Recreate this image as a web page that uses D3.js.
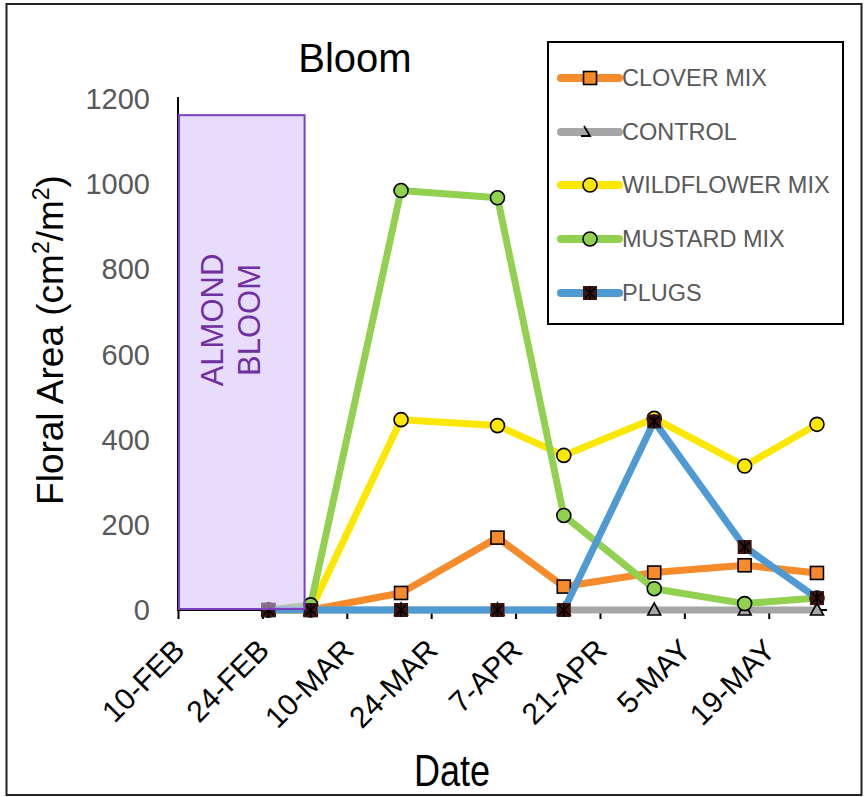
<!DOCTYPE html>
<html>
<head>
<meta charset="utf-8">
<script src="https://cdn.jsdelivr.net/npm/d3@7/dist/d3.min.js"></script>
<style>
  body { margin: 0; background: #fff; }
  svg { display: block; font-family: "Liberation Sans", Arial, sans-serif; }
</style>
</head>
<body>
<svg id="chart" width="865" height="797"></svg>
<script>
// ---------------- DATA ----------------
const sampleDates = ["2019-02-25","2019-03-04","2019-03-19","2019-04-04","2019-04-15","2019-04-30","2019-05-15","2019-05-27"];
const cloverMix     = [0, 0, 40, 170, 55, 88, 105, 87];
const control       = [0, 0, 0, 0, 0, 0, 0, 0];
const wildflowerMix = [0, 0, 447, 433, 363, 450, 338, 436];
const mustardMix    = [0, 12, 985, 968, 222, 50, 15, 28];
const plugs         = [0, 0, 0, 0, 0, 443, 148, 28];
const seriesNames   = ["CLOVER MIX", "CONTROL", "WILDFLOWER MIX", "MUSTARD MIX", "PLUGS"];
const tickDates     = ["2019-02-10","2019-02-24","2019-03-10","2019-03-24","2019-04-07","2019-04-21","2019-05-05","2019-05-19"];
const tickLabels    = ["10-FEB","24-FEB","10-MAR","24-MAR","7-APR","21-APR","5-MAY","19-MAY"];
const yTicks        = [0, 200, 400, 600, 800, 1000, 1200];
const bloomStart = "2019-02-10", bloomEnd = "2019-03-03", bloomTop = 1162;

// ---------------- SETUP ----------------
const svg = d3.select("#chart");
const parse = d3.utcParse("%Y-%m-%d");
const x = d3.scaleUtc().domain([parse("2019-02-10"), parse("2019-05-28")]).range([178, 823]);
const y = d3.scaleLinear().domain([0, 1200]).range([610, 99]);

const colors = ["#f68b2b", "#a6a6a6", "#fbe700", "#92d050", "#4f9ad3"];
const markers = ["square", "triangle", "circle", "circle", "star"];
const allSeries = [cloverMix, control, wildflowerMix, mustardMix, plugs];

// outer frame
svg.append("rect").attr("x", 6.5).attr("y", 4).attr("width", 855).attr("height", 791)
  .attr("fill", "none").attr("stroke", "#222").attr("stroke-width", 2);

// title
svg.append("text").attr("x", 355).attr("y", 72).attr("text-anchor", "middle")
  .attr("font-size", 40).attr("fill", "#000").text("Bloom");

// y axis labels
svg.append("g").selectAll("text").data(yTicks).join("text")
  .attr("x", 150).attr("y", d => y(d) + 10).attr("text-anchor", "end")
  .attr("font-size", 29).attr("fill", "#595959").text(d => d);

// y axis line
svg.append("line").attr("x1", 178).attr("x2", 178).attr("y1", 97).attr("y2", 611)
  .attr("stroke", "#000").attr("stroke-width", 2);

// x axis
const xAxis = d3.axisBottom(x)
  .tickValues(tickDates.map(parse))
  .tickSize(9)
  .tickFormat((d, i) => tickLabels[i]);
const gx = svg.append("g").attr("transform", "translate(0,610)").call(xAxis);
gx.select(".domain").attr("stroke", "#000").attr("stroke-width", 2).attr("d", `M178,0H827`);
gx.selectAll(".tick line").attr("stroke", "#000").attr("stroke-width", 2);
gx.selectAll(".tick text")
  .attr("font-family", "'Liberation Sans', Arial, sans-serif")
  .attr("font-size", 30).attr("fill", "#000")
  .attr("text-anchor", "end")
  .attr("dy", 0).attr("y", 0)
  .attr("transform", "translate(8,42) rotate(-45)");

// y axis title
const yl = svg.append("text").attr("transform", "translate(63,340) rotate(-90)")
  .attr("text-anchor", "middle").attr("font-size", 37).attr("fill", "#000");
yl.append("tspan").text("Floral Area (cm");
yl.append("tspan").attr("font-size", 23).attr("dy", -14).text("2");
yl.append("tspan").attr("dy", 14).text("/m");
yl.append("tspan").attr("font-size", 23).attr("dy", -14).text("2");
yl.append("tspan").attr("dy", 14).text(")");

// x axis title
svg.append("text").attr("transform", "translate(452,786) scale(0.82,1)")
  .attr("text-anchor", "middle").attr("font-size", 44).attr("fill", "#000").text("Date");

// ---------------- SERIES ----------------
function drawMarker(g, type, color, cx, cy) {
  if (type === "square") {
    g.append("rect").attr("x", cx - 6.5).attr("y", cy - 6.5).attr("width", 13).attr("height", 13)
      .attr("fill", color).attr("stroke", "#000").attr("stroke-width", 1.6);
  } else if (type === "circle") {
    g.append("circle").attr("cx", cx).attr("cy", cy).attr("r", 7)
      .attr("fill", color).attr("stroke", "#000").attr("stroke-width", 1.6);
  } else if (type === "triangle") {
    g.append("path").attr("d", `M${cx},${cy - 7}L${cx + 6.5},${cy + 5}L${cx - 6.5},${cy + 5}Z`)
      .attr("fill", color).attr("stroke", "#000").attr("stroke-width", 1.6);
  } else if (type === "star") {
    g.append("rect").attr("x", cx - 7).attr("y", cy - 7).attr("width", 14).attr("height", 14)
      .attr("fill", "#3d1510");
    g.append("path").attr("d", `M${cx - 5},${cy - 5}L${cx + 5},${cy + 5}M${cx + 5},${cy - 5}L${cx - 5},${cy + 5}M${cx},${cy - 7}L${cx},${cy + 7}`)
      .attr("stroke", "#000").attr("stroke-width", 1.5);
  }
}

const dates = sampleDates.map(parse);
const line = d3.line().x(d => x(d[0])).y(d => y(d[1]));
allSeries.forEach((vals, si) => {
  const g = svg.append("g");
  const pts = dates.map((d, i) => [d, vals[i]]);
  g.append("path").attr("d", line(pts)).attr("fill", "none")
    .attr("stroke", colors[si]).attr("stroke-width", 7).attr("stroke-linejoin", "round");
  pts.forEach(p => drawMarker(g, markers[si], colors[si], x(p[0]), y(p[1])));
});

// almond bloom box (drawn over, semi-transparent)
const bx0 = x(parse(bloomStart)), bx1 = x(parse(bloomEnd));
svg.append("rect").attr("x", bx0 + 1).attr("y", y(bloomTop)).attr("width", bx1 - bx0 - 1)
  .attr("height", y(0) - 1 - y(bloomTop))
  .attr("fill", "#d6bffa").attr("fill-opacity", 0.55)
  .attr("stroke", "#7b3fc0").attr("stroke-width", 2);
const bt = svg.append("text").attr("transform", `translate(223,320) rotate(-90)`)
  .attr("text-anchor", "middle").attr("font-size", 31).attr("fill", "#7030a0");
bt.append("tspan").attr("x", 0).attr("dy", 0).text("ALMOND");
bt.append("tspan").attr("x", 0).attr("dy", 37).text("BLOOM");

// ---------------- LEGEND ----------------
const lg = svg.append("g");
lg.append("rect").attr("x", 548).attr("y", 42).attr("width", 295).attr("height", 282)
  .attr("fill", "#fff").attr("stroke", "#000").attr("stroke-width", 2);
const legendY = [78, 132, 185, 239, 293];
seriesNames.forEach((name, i) => {
  const ly = legendY[i];
  lg.append("line").attr("x1", 561).attr("x2", 619).attr("y1", ly).attr("y2", ly)
    .attr("stroke", colors[i]).attr("stroke-width", 8).attr("stroke-linecap", "round");
  if (markers[i] === "triangle") {
    lg.append("path").attr("d", `M584,${ly - 6}L590,${ly + 4}L581,${ly + 4}`)
      .attr("fill", "none").attr("stroke", "#000").attr("stroke-width", 1.8);
  } else {
    drawMarker(lg, markers[i], colors[i], 590, ly);
  }
  lg.append("text").attr("x", 622).attr("y", ly + 8).attr("font-size", 23.5)
    .attr("fill", "#595959").text(name);
});
</script>
</body>
</html>
